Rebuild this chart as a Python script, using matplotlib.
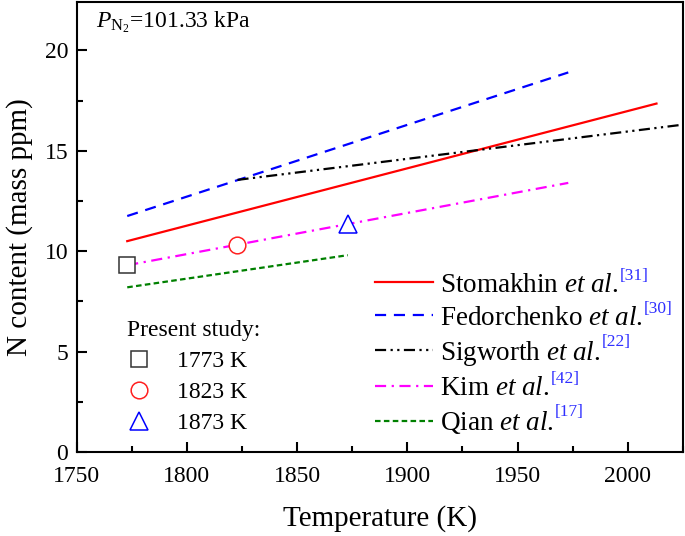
import matplotlib
matplotlib.use("Agg")
import matplotlib.pyplot as plt
from matplotlib.ticker import MultipleLocator

plt.rcParams['font.family'] = ['Liberation Serif', 'DejaVu Serif']
plt.rcParams['mathtext.fontset'] = 'custom'
plt.rcParams['mathtext.rm'] = 'Liberation Serif'
plt.rcParams['mathtext.it'] = 'Liberation Serif:italic'

# Data
T_stom = [1773, 2013]; N_stom = [10.5, 17.35]
T_fed = [1773, 1973]; N_fed = [11.75, 18.9]
T_sig = [1823, 2025]; N_sig = [13.55, 16.3]
T_kim = [1773, 1973]; N_kim = [9.3, 13.4]
T_qian = [1773, 1873]; N_qian = [8.2, 9.8]
T_exp = [1773, 1823, 1873]; N_exp = [9.3, 10.3, 11.35]
exp_labels = ['1773 K', '1823 K', '1873 K']

line_names = [r'Stomakhin $\it{et\ al}$.', r'Fedorchenko $\it{et\ al}$.',
              r'Sigworth $\it{et\ al}$.', r'Kim $\it{et\ al}$.', r'Qian $\it{et\ al}$.']
refs = ['[31]', '[30]', '[22]', '[42]', '[17]']

fig = plt.figure(figsize=(6.85, 5.36), dpi=100)
ax = fig.add_axes([0.1117, 0.1567, 0.8853, 0.8393])

lw = 1.6
l1, = ax.plot(T_stom, N_stom, color='#ff0000', lw=lw, ls='-')
l2, = ax.plot(T_fed, N_fed, color='#0000ff', lw=lw, ls=(0, (5, 3.5)))
l3, = ax.plot(T_sig, N_sig, color='black', lw=lw, ls=(0, (5, 2, 1, 2, 1, 2)))
l4, = ax.plot(T_kim, N_kim, color='#ff00ff', lw=lw, ls=(0, (5, 2.5, 1, 2.5)))
l5, = ax.plot(T_qian, N_qian, color='#008000', lw=lw, ls=(0, (2.5, 1.5)))

mk = ['s', 'o', '^']
mc = ['#333333', '#ff2020', '#0000ff']
ms = [11, 12, 13]
mhandles = []
for t, n, m, c, s in zip(T_exp, N_exp, mk, mc, ms):
    h, = ax.plot([t], [n], ls='none', marker=m, ms=s, mfc='white', mec=c, mew=1.1, zorder=5)
    mhandles.append(h)

ax.set_xlim(1750, 2025)
ax.set_ylim(0, 22.4)
ax.xaxis.set_major_locator(MultipleLocator(50))
ax.xaxis.set_minor_locator(MultipleLocator(25))
ax.yaxis.set_major_locator(MultipleLocator(5))
ax.yaxis.set_minor_locator(MultipleLocator(2.5))
ax.tick_params(which='both', direction='in', labelsize=17, width=1.5)
ax.tick_params(which='major', length=7)
ax.tick_params(which='minor', length=4)
ax.tick_params(axis='x', pad=10)
ax.tick_params(axis='y', pad=6)
for sp in ax.spines.values():
    sp.set_linewidth(1.5)

ax.set_xlabel('Temperature (K)', fontsize=21, labelpad=13)
ax.set_ylabel('N content (mass ppm)', fontsize=21, labelpad=8)

ax.text(0.032, 0.985, r'$P_{\mathrm{N_2}}$=101.33 kPa', transform=ax.transAxes,
        fontsize=17, va='top', ha='left')

leg1 = ax.legend([l1, l2, l3, l4, l5], line_names, loc='lower right',
                 bbox_to_anchor=(0.965, -0.007), frameon=False, fontsize=19.5,
                 handlelength=2.15, handletextpad=0.26, labelspacing=0.30,
                 borderaxespad=0.3)
ax.add_artist(leg1)
leg2 = ax.legend(mhandles, exp_labels, loc='lower left', bbox_to_anchor=(0.06, 0.008),
                 frameon=False, fontsize=17, title='Present study:',
                 title_fontsize=17, handlelength=1.0, handletextpad=1.1,
                 labelspacing=0.40, borderaxespad=0.2)
leg2._legend_box.align = 'left'

fig.canvas.draw()
inv = fig.transFigure.inverted()
for txt, r in zip(leg1.get_texts(), refs):
    bb = txt.get_window_extent()
    x, y = inv.transform((bb.x1 + 1, bb.y1 - 3))
    fig.text(x, y, r, color='#3030ff', fontsize=12.5, ha='left', va='center')

fig.savefig('out.png', dpi=100)
